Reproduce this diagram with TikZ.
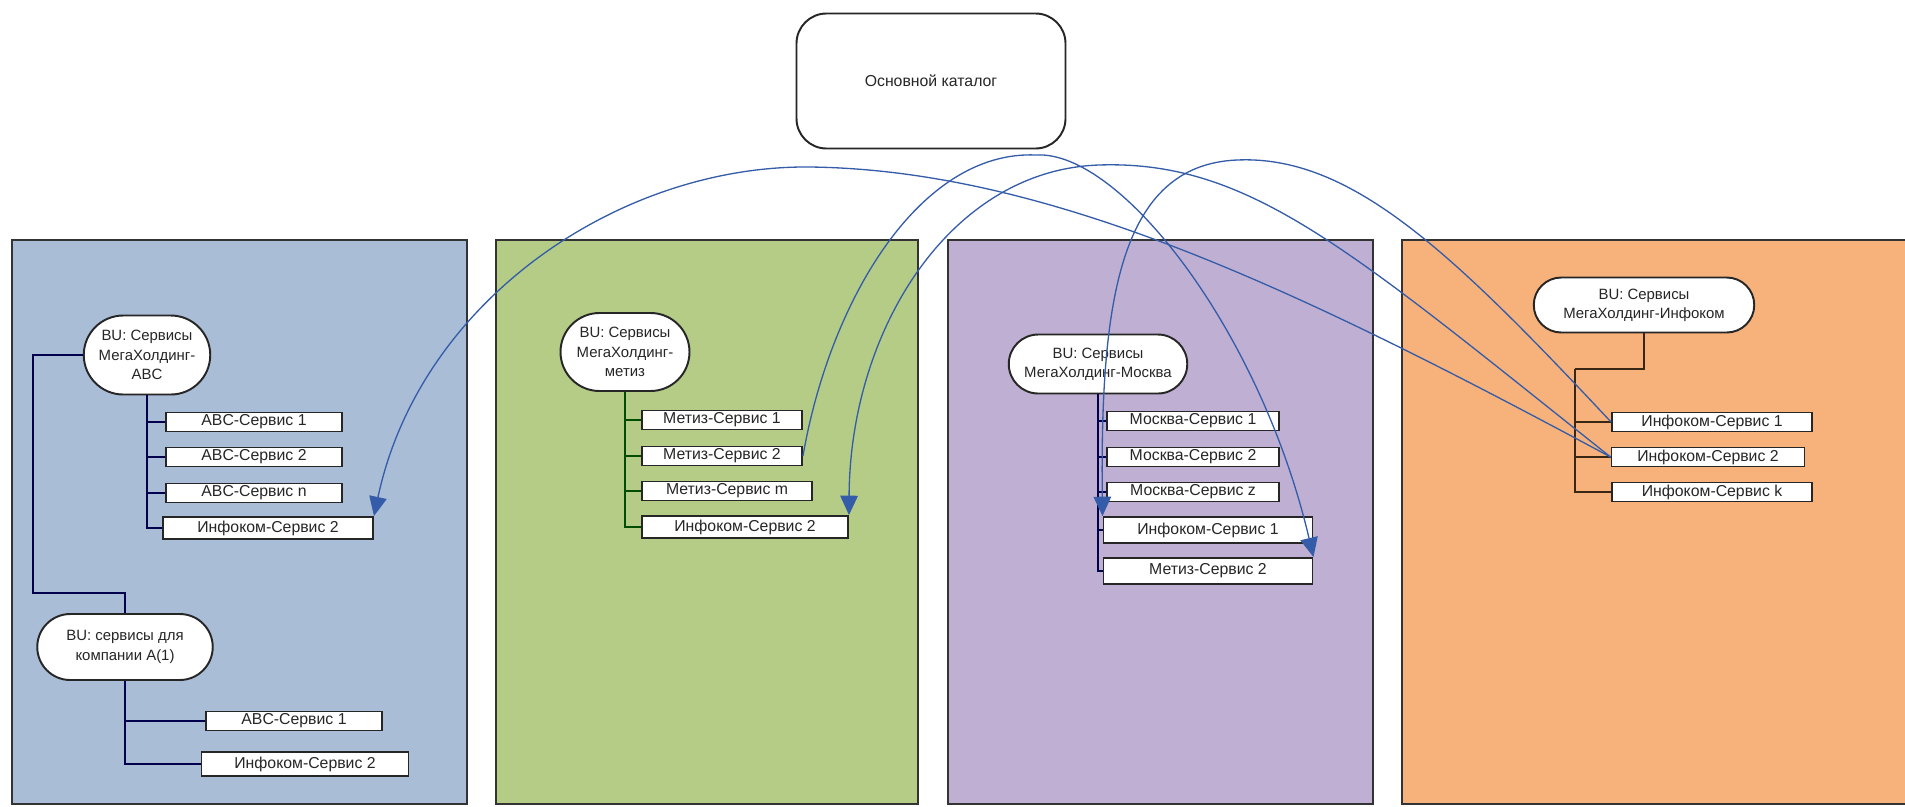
\documentclass[tikz,border=0pt]{standalone}
\usepackage{fontspec}
\setmainfont{Liberation Sans}
\usetikzlibrary{
    arrows.meta,
    shapes.misc
}
\definecolor{abcblue}{RGB}{170,189,215}
\definecolor{metizgreen}{RGB}{181,204,135}
\definecolor{moscowlilac}{RGB}{191,176,211}
\definecolor{infoorange}{RGB}{247,178,123}
\definecolor{linkblue}{RGB}{52,92,168}
\tikzset{
    % Colors
    abc panel/.style={fill=abcblue},
    metiz panel/.style={fill=metizgreen},
    moscow panel/.style={fill=moscowlilac},
    infocom panel/.style={fill=infoorange},
    %
    % Panels and boxes
    panel/.style={draw=black!80, line width=1.1pt},
    catalog/.style={rectangle, rounded corners=6mm, draw=black!85, line width=1.1pt, fill=white,
        minimum width=53.8mm, minimum height=27mm},
    bu/.style={rounded rectangle, draw=black!85, line width=1.1pt, fill=white, align=center, inner sep=1pt,
        font=\fontsize{8.5}{11}\selectfont},
    service/.style={rectangle, draw=black!85, line width=1.1pt, fill=white, inner sep=0pt, minimum height=#1},
    service/.default=3.8mm,
    %
    % Tree lines
    tree/.style={line width=1.5pt, draw=#1!30!black},
    tree/.default=black,
    %
    % Arrows
    arrow tip/.tip={Triangle[length=11pt,width=10pt]},
    arr/.style={->,>={arrow tip}},
    link/.style={arr, linkblue, line width=0.75pt}
}
\tikzstyle{every node}=[font=\small, text=black!85]

\begin{document}
\begin{tikzpicture}[x=0.2mm,y=-0.2mm]
    \useasboundingbox (0,0) rectangle (1905,806);
    \clip (0,0) rectangle (1905,806);

    % panels
    \draw[panel,abc panel] (12,240) rectangle (467,804);
    \draw[panel,metiz panel] (496,240) rectangle (918,804);
    \draw[panel,moscow panel] (948,240) rectangle (1373,804);
    \draw[panel,infocom panel] (1402,240) rectangle (1930,804);

    \node[catalog] (main) at (931,81) {Основной каталог};

    % MegaHolding-ABC
    \node[bu, minimum width=26mm, minimum height=15.8mm] (buabc) at (147,355) {BU: Сервисы\\МегаХолдинг-\\ABC};
    \foreach \t/\y [count=\i] in {ABC-Сервис 1/422, ABC-Сервис 2/457, ABC-Сервис n/493}{
        \node[service, minimum width=35.2mm] (abc\i) at (254,\y) {\t};
        \draw[tree=blue] (buabc.south) |- (abc\i.west);
    }
    \node[service=4.4mm, minimum width=42mm] (abc4) at (268,528) {Инфоком-Сервис 2};
    \draw[tree=blue] (buabc.south) |- (abc4.west);

    \node[bu, minimum width=35.8mm, minimum height=13.2mm] (bucomp) at (125,647) {BU: сервисы для\\компании A(1)};
    \coordinate (j1) at (33,593);
    \draw[tree=blue] (buabc.west) -| (j1) -| (bucomp.north);
    \node[service, minimum width=35.2mm] (comp1) at (294,721) {ABC-Сервис 1};
    \node[service=4.8mm, minimum width=41.4mm] (comp2) at (305,764) {Инфоком-Сервис 2};
    \draw[tree=blue] (bucomp.south) |- (comp1.west);
    \draw[tree=blue] (bucomp.south) |- (comp2.west);

    % MegaHolding-metiz
    \node[bu, minimum width=26.5mm, minimum height=15.6mm] (bumetiz) at (625,352) {BU: Сервисы\\МегаХолдинг-\\метиз};
    \node[service, minimum width=32mm] (metiz1) at (722,420) {Метиз-Сервис 1};
    \node[service, minimum width=32mm] (metiz2) at (722,456) {Метиз-Сервис 2};
    \node[service, minimum width=34mm] (metiz3) at (727,491) {Метиз-Сервис m};
    \node[service=4.4mm, minimum width=41.2mm] (metiz4) at (745,527) {Инфоком-Сервис 2};
    \foreach \i in {1,...,4}
        \draw[tree=green] (bumetiz.south) |- (metiz\i.west);

    % MegaHolding-Moscow
    \node[bu, minimum width=36.4mm, minimum height=11.8mm] (bumsk) at (1098,364) {BU: Сервисы\\МегаХолдинг-Москва};
    \foreach \t/\y [count=\i] in {Москва-Сервис 1/421, Москва-Сервис 2/457, Москва-Сервис z/492}{
        \node[service, minimum width=34.4mm] (msk\i) at (1193,\y) {\t};
        \draw[tree=blue] (bumsk.south) |- (msk\i.west);
    }
    \node[service=5.2mm, minimum width=41.8mm] (msk4) at (1208,530) {Инфоком-Сервис 1};
    \node[service=5.2mm, minimum width=41.8mm] (msk5) at (1208,571) {Метиз-Сервис 2};
    \draw[tree=blue] (bumsk.south) |- (msk4.west);
    \draw[tree=blue] (bumsk.south) |- (msk5.west);

    % MegaHolding-Infocom
    \node[bu, minimum width=44.8mm, minimum height=11mm] (buinfo) at (1644,305) {BU: Сервисы\\МегаХолдинг-Инфоком};
    \node[service, minimum width=40mm] (info1) at (1712,422) {Инфоком-Сервис 1};
    \node[service, minimum width=38.6mm] (info2) at (1708,457) {Инфоком-Сервис 2};
    \node[service, minimum width=40mm] (info3) at (1712,492) {Инфоком-Сервис k};
    \coordinate (j2) at (1575,369);
    \draw[tree=brown] (buinfo.south) |- (j2);
    \foreach \i in {1,2,3}
        \draw[tree=brown] (j2) |- (info\i.west);

    % links
    \draw[link] (info2.west) .. controls (1300,290) and (1050,170) .. (810,167)
        .. controls (620,165) and (420,300) .. (abc4.north east);
    \draw[link] (info2.west) .. controls (1350,250) and (1250,160) .. (1099,165)
        .. controls (950,170) and (850,330) .. (metiz4.north east);
    \draw[link] (info1.west) .. controls (1450,250) and (1350,155) .. (1237,160)
        .. controls (1120,165) and (1100,300) .. (msk4.north west);
    \draw[link] (metiz2.east) .. controls (830,300) and (920,150) .. (1036,155)
        .. controls (1120,150) and (1260,330) .. (msk5.north east);
\end{tikzpicture}
\end{document}
